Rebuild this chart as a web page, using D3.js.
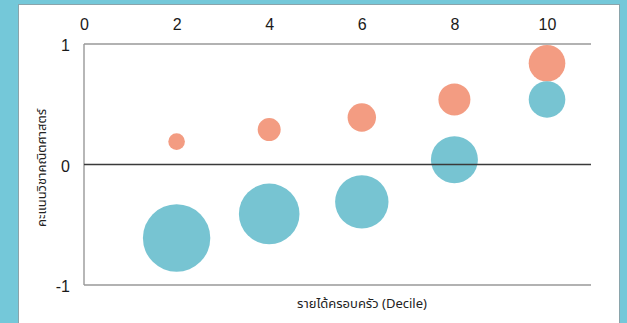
<!DOCTYPE html>
<html><head><meta charset="utf-8">
<script src="https://cdn.jsdelivr.net/npm/d3@7"></script>
<style>
html,body{margin:0;padding:0;background:#74c8d9;}
svg{display:block;}
</style></head>
<body>
<svg id="chart" width="627" height="323"></svg>
<script>
const deciles = [2, 4, 6, 8, 10];
const scoreA = [0.19, 0.29, 0.39, 0.54, 0.84];      // orange series
const sizeA = [8.3, 11.5, 14.2, 16, 18.3];
const scoreB = [-0.61, -0.41, -0.31, 0.04, 0.54];   // teal series
const sizeB = [33.7, 30.3, 26.7, 23.5, 18.3];
const xTicks = [0, 2, 4, 6, 8, 10];
const yTicks = [-1, 0, 1];
const xTitle = "รายได้ครอบครัว (Decile)";
const yTitle = "คะแนนวิชาคณิตศาสตร์";

const svg = d3.select("#chart");
svg.append("rect").attr("x", 18.5).attr("y", 4.5).attr("width", 601).attr("height", 330)
  .attr("fill", "#fff").attr("stroke", "#8aa4ab").attr("stroke-width", 1);

const x = d3.scaleLinear().domain([0, 10.95]).range([84, 591]);
const y = d3.scaleLinear().domain([-1, 1]).range([285, 44]);
const r = d3.scaleLinear().domain([0, 34]).range([0, 34]);
const tickFont = "'Liberation Sans', Arial, sans-serif";

// frame lines
const frame = "#999";
svg.append("line").attr("x1", x(0)).attr("x2", x(10.95)).attr("y1", y(1)).attr("y2", y(1)).attr("stroke", frame).attr("stroke-width", 1.4);
svg.append("line").attr("x1", x(0)).attr("x2", x(10.95)).attr("y1", y(-1)).attr("y2", y(-1)).attr("stroke", frame).attr("stroke-width", 1.4);
svg.append("line").attr("x1", x(0)).attr("x2", x(0)).attr("y1", y(1)).attr("y2", y(-1)).attr("stroke", frame).attr("stroke-width", 1.4);

const xAxis = d3.axisTop(x).tickValues(xTicks).tickSize(0).tickPadding(0).tickFormat(d3.format("d"));
const gx = svg.append("g").attr("transform", "translate(0,30)").call(xAxis);
gx.select(".domain").remove();
gx.selectAll("text").attr("font-family", tickFont).attr("font-size", 16).attr("fill", "#1a1a1a").attr("dy", 0);

const yAxis = d3.axisLeft(y).tickValues(yTicks).tickSize(0).tickPadding(0).tickFormat(d => String(d));
const gy = svg.append("g").attr("transform", "translate(70,1)").call(yAxis);
gy.select(".domain").remove();
gy.selectAll("text").attr("font-family", tickFont).attr("font-size", 16).attr("fill", "#1a1a1a").attr("dy", "0.35em");

// circles
const gA = svg.append("g");
gA.selectAll("circle").data(deciles).join("circle")
  .attr("cx", d => x(d)).attr("cy", (d, i) => y(scoreA[i])).attr("r", (d, i) => r(sizeA[i]))
  .attr("fill", "#f39c82");
const gB = svg.append("g");
gB.selectAll("circle").data(deciles).join("circle")
  .attr("cx", d => x(d)).attr("cy", (d, i) => y(scoreB[i])).attr("r", (d, i) => r(sizeB[i]))
  .attr("fill", "#77c4d2");

// zero line (drawn on top)
svg.append("line").attr("x1", x(0)).attr("x2", x(10.95)).attr("y1", y(0)).attr("y2", y(0)).attr("stroke", "#3a3a3a").attr("stroke-width", 1.3);

svg.append("text").attr("x", 362).attr("y", 308).attr("text-anchor", "middle")
  .attr("font-family", "'Noto Sans Thai', Loma, sans-serif").attr("font-size", 13).attr("fill", "#222").text(xTitle);
svg.append("text").attr("transform", "translate(46,168) rotate(-90)").attr("text-anchor", "middle")
  .attr("font-family", "'Noto Sans Thai', Loma, sans-serif").attr("font-size", 13).attr("fill", "#222").text(yTitle);
</script>
</body></html>
